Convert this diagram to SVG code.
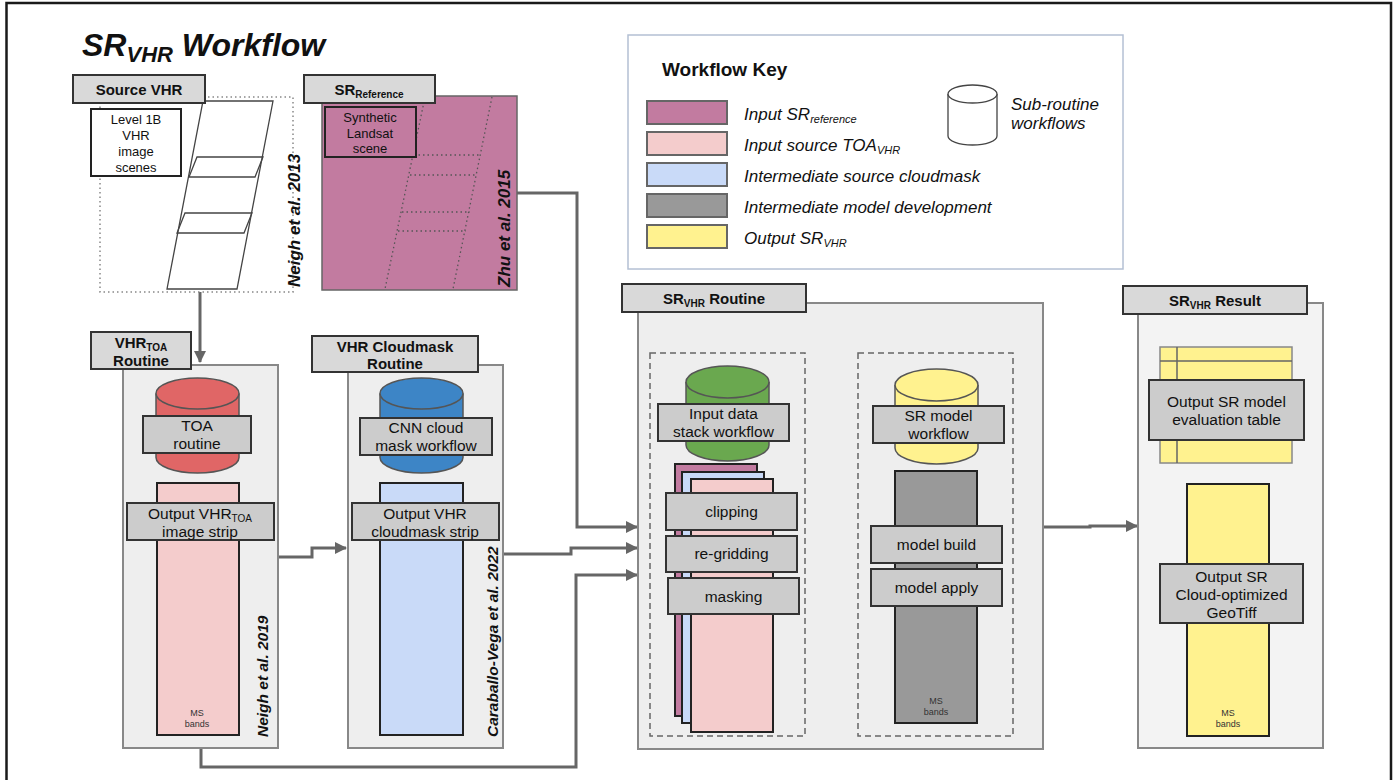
<svg xmlns="http://www.w3.org/2000/svg" width="1397" height="780" viewBox="0 0 1397 780">
<defs>
<style>
text{font-family:"Liberation Sans",Arial,sans-serif;fill:#111}
.hdr{fill:#d9d9d9;stroke:#333;stroke-width:2}
.lbl{fill:#cccccc;stroke:#333;stroke-width:2}
.rt{fill:#eeeeee;stroke:#888;stroke-width:2}
.ht{font-size:15px;font-weight:bold;text-anchor:middle}
.lt{font-size:15.5px;text-anchor:middle}
.st{font-size:13px;text-anchor:middle}
.ms{font-size:9px;text-anchor:middle;fill:#333}
.cite{font-size:15.5px;font-weight:bold;font-style:italic}
.cite2{font-size:17px;font-weight:bold;font-style:italic}
.key{font-size:17px;font-style:italic}
.sw{stroke:#666;stroke-width:2}
.dash{fill:none;stroke:#666;stroke-width:1.5;stroke-dasharray:6 4}
.conn{fill:none;stroke:#666;stroke-width:3}
.strip{stroke:#222;stroke-width:2}
.cyl{stroke:#555;stroke-width:1.5}
</style>
<marker id="arr" markerUnits="userSpaceOnUse" markerWidth="12" markerHeight="12" refX="11" refY="6" orient="auto">
<path d="M0,0 L12,6 L0,12 Z" fill="#666"/>
</marker>
</defs>
<rect width="1397" height="780" fill="#ffffff"/>
<rect x="6.5" y="3" width="1384.5" height="800" fill="none" stroke="#1a1a1a" stroke-width="2.5"/>

<g id="title">
<text x="82" y="56" font-size="32" font-weight="bold" font-style="italic">SR<tspan font-size="22" dy="6">VHR</tspan><tspan dy="-6"> Workflow</tspan></text>
</g>

<g id="connectors">
<path class="conn" d="M200,292 V362" marker-end="url(#arr)"/>
<path class="conn" d="M278,557 H312 V548 H346" marker-end="url(#arr)"/>
<path class="conn" d="M517,193 H577 V527 H637" marker-end="url(#arr)"/>
<path class="conn" d="M503,554 H571 V548 H637" marker-end="url(#arr)"/>
<path class="conn" d="M201,748 V767 H576 V575 H637" marker-end="url(#arr)"/>
<path class="conn" d="M1043,527 H1090 V526 H1137" marker-end="url(#arr)"/>
</g>

<g id="source-vhr">
<rect x="100" y="97" width="193" height="195" fill="none" stroke="#888" stroke-width="1.5" stroke-dasharray="1.5 3"/>
<polygon points="203,101 273,101 237,289 167,289" fill="#fff" stroke="#444" stroke-width="1.3"/>
<polygon points="197,157 263,157 255,177 189,177" fill="none" stroke="#444" stroke-width="1.3"/>
<polygon points="185,213 252,213 244,233 177,233" fill="none" stroke="#444" stroke-width="1.3"/>
<rect x="91" y="109" width="90" height="67" fill="#fff" stroke="#222" stroke-width="2"/>
<text class="st" x="136" y="124">Level 1B</text>
<text class="st" x="136" y="140">VHR</text>
<text class="st" x="136" y="156">image</text>
<text class="st" x="136" y="172">scenes</text>
<rect class="hdr" x="73" y="75" width="132" height="28"/>
<text class="ht" x="139" y="95">Source VHR</text>
<text class="cite2" transform="translate(300,287) rotate(-90)">Neigh et al. 2013</text>
</g>

<g id="sr-reference">
<rect x="322" y="96" width="195" height="194" fill="#c27ba0" stroke="#666" stroke-width="1.5"/>
<g fill="none" stroke="#555" stroke-width="1.3" stroke-dasharray="1.5 3">
<path d="M425,97 L385,289 M492,97 L453,289"/>
<path d="M414,155 H481 M410,175 H477 M402,212 H470 M398,231 H466"/>
</g>
<rect x="325" y="107" width="91" height="50" fill="#c27ba0" stroke="#222" stroke-width="2"/>
<text class="st" x="370" y="122">Synthetic</text>
<text class="st" x="370" y="138">Landsat</text>
<text class="st" x="370" y="153">scene</text>
<rect class="hdr" x="304" y="75" width="131" height="28"/>
<text class="ht" x="369" y="95">SR<tspan font-size="10" dy="3">Reference</tspan></text>
<text class="cite2" transform="translate(510,287) rotate(-90)">Zhu et al. 2015</text>
</g>

<g id="legend">
<rect x="628" y="35" width="495" height="234" fill="#fff" stroke="#b4c0d4" stroke-width="1.5"/>
<text x="662" y="76" font-size="19" font-weight="bold">Workflow Key</text>
<rect class="sw" x="647" y="101" width="80" height="23" fill="#c27ba0"/>
<rect class="sw" x="647" y="132" width="80" height="23" fill="#f4cccc"/>
<rect class="sw" x="647" y="163" width="80" height="23" fill="#c9daf8"/>
<rect class="sw" x="647" y="194" width="80" height="23" fill="#999999"/>
<rect class="sw" x="647" y="225" width="80" height="23" fill="#fff28f"/>
<text class="key" x="744" y="120">Input SR<tspan font-size="11" dy="3">reference</tspan></text>
<text class="key" x="744" y="151">Input source TOA<tspan font-size="11" dy="3">VHR</tspan></text>
<text class="key" x="744" y="182">Intermediate source cloudmask</text>
<text class="key" x="744" y="213">Intermediate model development</text>
<text class="key" x="744" y="244">Output SR<tspan font-size="11" dy="3">VHR</tspan></text>
<path d="M948,94 V136 A24.5,9 0 0 0 997,136 V94" fill="#fff" stroke="#444" stroke-width="1.3"/>
<ellipse cx="972.5" cy="94" rx="24.5" ry="9" fill="#fff" stroke="#444" stroke-width="1.3"/>
<text class="key" x="1011" y="110">Sub-routine</text>
<text class="key" x="1011" y="129">workflows</text>
</g>

<g id="vhr-toa-routine">
<rect class="rt" x="123" y="365" width="155" height="383"/>
<path class="cyl" d="M156,393.5 V457.5 A41.5,15.5 0 0 0 239,457.5 V393.5" fill="#e06666"/>
<ellipse class="cyl" cx="197.5" cy="393.5" rx="41.5" ry="15.5" fill="#e06666"/>
<rect class="lbl" x="143" y="416" width="108" height="37"/>
<text class="lt" x="197" y="431">TOA</text>
<text class="lt" x="197" y="449">routine</text>
<rect class="strip" x="157" y="483" width="82" height="252" fill="#f4cccc"/>
<rect class="lbl" x="127" y="503" width="147" height="37"/>
<text class="lt" x="200" y="519">Output VHR<tspan font-size="10" dy="3">TOA</tspan></text>
<text class="lt" x="200" y="537">image strip</text>
<text class="ms" x="197" y="716">MS</text>
<text class="ms" x="197" y="727">bands</text>
<rect class="hdr" x="91" y="332" width="100" height="37"/>
<text class="ht" x="141" y="348">VHR<tspan font-size="10" dy="3">TOA</tspan></text>
<text class="ht" x="141" y="366">Routine</text>
<text class="cite" transform="translate(268,737) rotate(-90)">Neigh et al. 2019</text>
</g>

<g id="cloudmask-routine">
<rect class="rt" x="348" y="365" width="155" height="383"/>
<path class="cyl" d="M380,393.5 V457.5 A41.5,15.5 0 0 0 463,457.5 V393.5" fill="#3d85c6"/>
<ellipse class="cyl" cx="421.5" cy="393.5" rx="41.5" ry="15.5" fill="#3d85c6"/>
<rect class="lbl" x="360" y="418" width="132" height="37"/>
<text class="lt" x="426" y="433">CNN cloud</text>
<text class="lt" x="426" y="451">mask workflow</text>
<rect class="strip" x="380" y="483" width="83" height="252" fill="#c9daf8"/>
<rect class="lbl" x="352" y="503" width="147" height="37"/>
<text class="lt" x="425" y="519">Output VHR</text>
<text class="lt" x="425" y="537">cloudmask strip</text>
<rect class="hdr" x="312" y="336" width="166" height="36"/>
<text class="ht" x="395" y="352">VHR Cloudmask</text>
<text class="ht" x="395" y="369">Routine</text>
<text class="cite" transform="translate(498,737) rotate(-90)">Caraballo-Vega et al. 2022</text>
</g>

<g id="sr-vhr-routine">
<rect class="rt" x="638" y="303" width="405" height="446"/>
<rect class="dash" x="650" y="353" width="155" height="383"/>
<rect class="dash" x="858" y="353" width="155" height="383"/>
<path class="cyl" d="M686,382 V445 A41.5,16 0 0 0 769,445 V382" fill="#6aa84f"/>
<ellipse class="cyl" cx="727.5" cy="382" rx="41.5" ry="16" fill="#6aa84f"/>
<rect class="lbl" x="658" y="404" width="131" height="37"/>
<text class="lt" x="723.5" y="419">Input data</text>
<text class="lt" x="723.5" y="437">stack workflow</text>
<rect class="strip" x="675" y="464" width="82" height="252" fill="#c27ba0"/>
<rect class="strip" x="682" y="472" width="82" height="251" fill="#c9daf8"/>
<rect class="strip" x="691" y="479" width="82" height="253" fill="#f4cccc"/>
<rect class="lbl" x="666" y="493" width="131" height="37"/>
<text class="lt" x="731.5" y="517">clipping</text>
<rect class="lbl" x="666" y="536" width="131" height="36"/>
<text class="lt" x="731.5" y="559">re-gridding</text>
<rect class="lbl" x="668" y="578" width="131" height="36"/>
<text class="lt" x="733.5" y="602">masking</text>
<path class="cyl" d="M895,385 V448 A41.5,16 0 0 0 978,448 V385" fill="#fff28f"/>
<ellipse class="cyl" cx="936.5" cy="385" rx="41.5" ry="16" fill="#fff28f"/>
<rect class="lbl" x="873" y="406" width="131" height="37"/>
<text class="lt" x="938.5" y="421">SR model</text>
<text class="lt" x="938.5" y="439">workflow</text>
<rect class="strip" x="895" y="471" width="82" height="252" fill="#999999"/>
<rect class="lbl" x="871" y="526" width="131" height="37"/>
<text class="lt" x="936.5" y="550">model build</text>
<rect class="lbl" x="871" y="569" width="131" height="37"/>
<text class="lt" x="936.5" y="593">model apply</text>
<text class="ms" x="936" y="704">MS</text>
<text class="ms" x="936" y="715">bands</text>
<rect class="hdr" x="622" y="284" width="184" height="28"/>
<text class="ht" x="714" y="304">SR<tspan font-size="10" dy="3">VHR</tspan><tspan dy="-3"> Routine</tspan></text>
</g>

<g id="sr-vhr-result">
<rect x="1138" y="303" width="185" height="445" fill="#f3f3f3" stroke="#888" stroke-width="2"/>
<rect x="1160" y="347" width="132" height="116" fill="#fff28f" stroke="#888" stroke-width="1.5"/>
<path d="M1177,347 V463 M1160,361 H1292" stroke="#666" stroke-width="1.5" fill="none"/>
<rect class="lbl" x="1149" y="380" width="155" height="60"/>
<text class="lt" x="1226.5" y="407">Output SR model</text>
<text class="lt" x="1226.5" y="425">evaluation table</text>
<rect class="strip" x="1187" y="484" width="82" height="252" fill="#fff28f"/>
<rect class="lbl" x="1160" y="564" width="143" height="59"/>
<text class="lt" x="1231.5" y="582">Output SR</text>
<text class="lt" x="1231.5" y="600">Cloud-optimized</text>
<text class="lt" x="1231.5" y="618">GeoTiff</text>
<text class="ms" x="1228" y="716">MS</text>
<text class="ms" x="1228" y="727">bands</text>
<rect class="hdr" x="1123" y="286" width="184" height="28"/>
<text class="ht" x="1215" y="306">SR<tspan font-size="10" dy="3">VHR</tspan><tspan dy="-3"> Result</tspan></text>
</g>
</svg>
